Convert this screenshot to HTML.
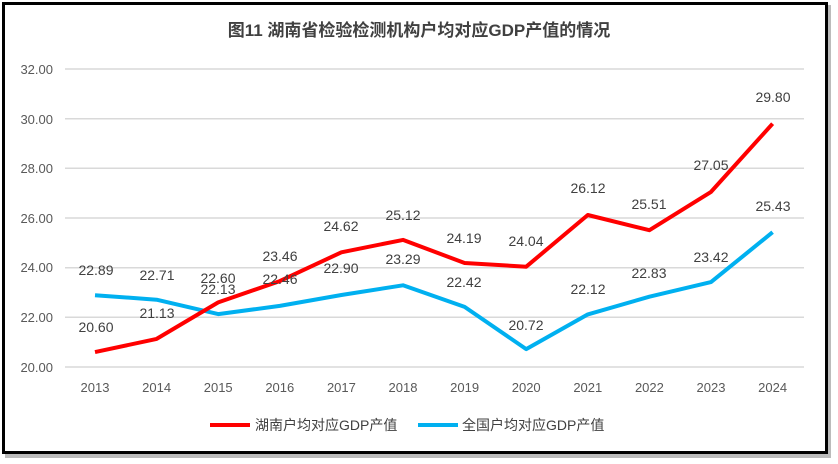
<!DOCTYPE html>
<html><head><meta charset="utf-8"><style>
body{margin:0;background:#fff;}
svg{display:block;font-family:"Liberation Sans","Noto Sans CJK SC",sans-serif;}
</style></head><body>
<svg width="838" height="464" viewBox="0 0 838 464">
<rect x="5" y="5" width="826" height="453" fill="#bbb"/>
<rect x="3.5" y="3.5" width="823" height="449" fill="#fff" stroke="#000" stroke-width="3"/>
<text x="419" y="36" text-anchor="middle" font-size="17" font-weight="bold" fill="#404040">图11  湖南省检验检测机构户均对应GDP产值的情况</text>
<g stroke="#d9d9d9" stroke-width="1.5">
<line x1="65" x2="804" y1="69" y2="69"/><line x1="65" x2="804" y1="118.7" y2="118.7"/>
<line x1="65" x2="804" y1="168.3" y2="168.3"/><line x1="65" x2="804" y1="218" y2="218"/>
<line x1="65" x2="804" y1="267.7" y2="267.7"/><line x1="65" x2="804" y1="317.3" y2="317.3"/>
<line x1="65" x2="804" y1="367" y2="367"/>
</g>
<g font-size="13" fill="#595959" text-anchor="end">
<text x="53" y="74">32.00</text><text x="53" y="124">30.00</text><text x="53" y="173">28.00</text>
<text x="53" y="223">26.00</text><text x="53" y="272">24.00</text><text x="53" y="322">22.00</text><text x="53" y="372">20.00</text>
</g>
<g font-size="13" fill="#595959" text-anchor="middle">
<text x="95" y="392">2013</text><text x="156.6" y="392">2014</text><text x="218.2" y="392">2015</text><text x="279.8" y="392">2016</text>
<text x="341.4" y="392">2017</text><text x="403" y="392">2018</text><text x="464.6" y="392">2019</text><text x="526.2" y="392">2020</text>
<text x="587.8" y="392">2021</text><text x="649.4" y="392">2022</text><text x="711" y="392">2023</text><text x="772.6" y="392">2024</text>
</g>
<polyline fill="none" stroke="#00b0f0" stroke-width="4" stroke-linejoin="round" points="95,295.2 156.6,299.7 218.2,314.1 279.8,305.9 341.4,295 403,285.3 464.6,306.9 526.2,349.1 587.8,314.4 649.4,296.7 711,282.1 772.6,232.2"/>
<polyline fill="none" stroke="#ff0000" stroke-width="4" stroke-linejoin="round" points="95,352.1 156.6,338.9 218.2,302.4 279.8,281.1 341.4,252.3 403,239.9 464.6,263 526.2,266.7 587.8,215 649.4,230.2 711,191.9 772.6,123.7"/>
<g font-size="14" fill="#404040" text-anchor="middle">
<text x="96" y="332">20.60</text><text x="157" y="318">21.13</text><text x="218" y="283">22.60</text><text x="280" y="261">23.46</text>
<text x="341" y="231">24.62</text><text x="403" y="220">25.12</text><text x="464" y="243">24.19</text><text x="526" y="246">24.04</text>
<text x="588" y="193">26.12</text><text x="649" y="209">25.51</text><text x="711" y="170">27.05</text><text x="773" y="102">29.80</text>
<text x="96" y="275">22.89</text><text x="157" y="280">22.71</text><text x="218" y="294">22.13</text><text x="280" y="284">22.46</text>
<text x="341" y="273">22.90</text><text x="403" y="264">23.29</text><text x="464" y="287">22.42</text><text x="526" y="330">20.72</text>
<text x="588" y="294">22.12</text><text x="649" y="278">22.83</text><text x="711" y="262">23.42</text><text x="773" y="211">25.43</text>
</g>
<line x1="210" x2="250" y1="425" y2="425" stroke="#ff0000" stroke-width="4"/>
<text x="255" y="430" font-size="14" fill="#404040">湖南户均对应GDP产值</text>
<line x1="418" x2="458" y1="425" y2="425" stroke="#00b0f0" stroke-width="4"/>
<text x="462" y="430" font-size="14" fill="#404040">全国户均对应GDP产值</text>
</svg>
</body></html>
